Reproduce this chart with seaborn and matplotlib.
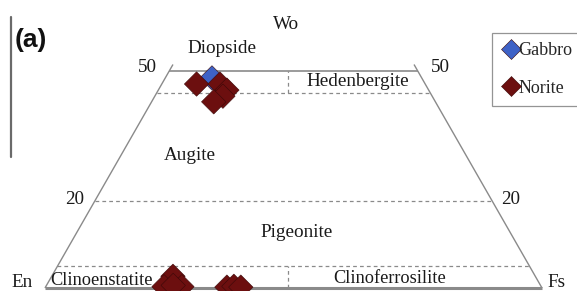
import matplotlib
matplotlib.use("Agg")
import matplotlib.pyplot as plt
import seaborn as sns
import pandas as pd

# pyroxene analyses: Wo and Fs in mol %
gabbro_wo = [48.4]
gabbro_fs = [9.4]
norite_wo = [47.0, 47.0, 45.6, 44.2, 42.9, 2.7, 0.3, 0.3, 0.6, 0.2, 0.4, 0.2]
norite_fs = [7.0, 11.7, 13.8, 13.7, 12.5, 24.4, 23.8, 27.4, 25.5, 36.5, 37.8, 39.3]

rocks = ["Gabbro", "Norite"]
colors = {"Gabbro": "#3e62c6", "Norite": "#6c0f0f"}

# field names and where they sit (x across the quadrilateral, Wo)
fields = ["Diopside", "Hedenbergite", "Augite", "Pigeonite", "Clinoenstatite", "Clinoferrosilite"]
field_x = [35.6, 63.0, 29.2, 50.7, 11.4, 69.4]
field_y = [55.1, 47.5, 30.6, 12.9, 1.8, 2.1]


def tern(wo, fs):
    # x across the En-Fs base, y is Wo
    return fs + wo / 2.0, wo


sns.set_style("white")
plt.rcParams["font.family"] = ["Liberation Serif", "DejaVu Serif"]

fig = plt.figure(figsize=(5.77, 2.91), dpi=100)
ax = fig.add_axes([0, 0, 1, 1])
ax.set_xlim(-9.05, 107.04)
ax.set_ylim(-0.69, 66.36)
ax.axis("off")

line_c = "#8a8a8a"
# outline
for wo0, fs0, wo1, fs1, lw in [(0, 0, 51.5, 0, 1.0), (0, 100, 51.5, 48.5, 1.0),
                                (50, 0, 50, 50, 1.2), (0, 0, 0, 100, 2.2)]:
    x0, y0 = tern(wo0, fs0)
    x1, y1 = tern(wo1, fs1)
    ax.plot([x0, x1], [y0, y1], color=line_c, lw=lw, solid_capstyle="butt")

# dashed field boundaries
for wo in [45, 20, 5]:
    x0, y0 = tern(wo, 0)
    x1, y1 = tern(wo, 100 - wo)
    ax.plot([x0, x1], [y0, y1], color=line_c, lw=0.9, ls=(0, (3, 2.5)))
for y0, y1 in [(45, 50), (0, 5)]:
    ax.plot([48.8, 48.8], [y0, y1], color=line_c, lw=0.9, ls=(0, (3, 2.5)))

# data
df = pd.DataFrame({
    "Wo": gabbro_wo + norite_wo,
    "Fs": gabbro_fs + norite_fs,
    "Rock": ["Gabbro"] * len(gabbro_wo) + ["Norite"] * len(norite_wo),
})
df["x"], df["y"] = tern(df["Wo"], df["Fs"])
sns.scatterplot(data=df, x="x", y="y", hue="Rock", hue_order=rocks, palette=colors,
                marker="D", s=155, edgecolor="#3a0808", linewidth=0.4,
                ax=ax, zorder=5, clip_on=False)

handles, labels = ax.get_legend_handles_labels()
for h in handles:
    h.set_markersize(10)
    h.set_markeredgewidth(0.4)
leg = ax.legend(handles, labels, loc="upper left", bbox_to_anchor=(492 / 577, 1 - 33 / 291),
                bbox_transform=fig.transFigure, borderaxespad=0, frameon=True, fancybox=False,
                fontsize=13, handletextpad=-0.15, handlelength=1.1, labelspacing=1.15,
                borderpad=0.5)
leg.get_frame().set_edgecolor("#7a7a7a")
leg.get_frame().set_linewidth(0.9)

txt = dict(fontsize=13.8, ha="center", va="center", color="#1a1a1a")
for name, fx, fy in zip(fields, field_x, field_y):
    ax.text(fx, fy, name, **dict(txt, fontsize=13.2 if fy < 5 else 13.8))

ax.text(20.7, 50.9, "50", **txt)
ax.text(79.5, 50.9, "50", **txt)
ax.text(6.0, 20.3, "20", **txt)
ax.text(93.6, 20.3, "20", **txt)
ax.text(-4.6, 1.2, "En", **txt)
ax.text(103.0, 1.2, "Fs", **txt)
ax.text(48.6, 60.6, "Wo", **txt)

fig.text(15 / 577, 1 - 40 / 291, "(a)", fontsize=19, fontweight="bold",
         family=["Liberation Sans", "DejaVu Sans"], ha="left", va="center", color="#111111")
ax.plot([-6.8, -6.8], [30.2, 62.4], color="#6a6a6a", lw=1.6)

fig.savefig("out.png", dpi=100)
